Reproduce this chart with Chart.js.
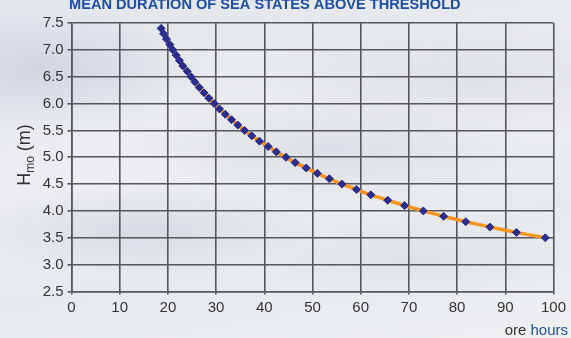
<!DOCTYPE html>
<html>
<head>
<meta charset="utf-8">
<script src="https://cdn.jsdelivr.net/npm/chart.js@4"></script>
<style>
    html, body { margin: 0; padding: 0; }
    body {
        width: 571px;
        height: 338px;
        overflow: hidden;
        background:
            radial-gradient(ellipse 160px 60px at 40px 70px, rgba(190,195,205,0.5), rgba(190,195,205,0) 100%),
            radial-gradient(ellipse 200px 50px at 330px 150px, rgba(200,204,212,0.45), rgba(200,204,212,0) 100%),
            radial-gradient(ellipse 180px 45px at 140px 230px, rgba(196,200,208,0.45), rgba(196,200,208,0) 100%),
            radial-gradient(ellipse 220px 60px at 470px 80px, rgba(205,208,216,0.4), rgba(205,208,216,0) 100%),
            radial-gradient(ellipse 160px 40px at 420px 260px, rgba(205,208,215,0.35), rgba(205,208,215,0) 100%),
            linear-gradient(170deg, #e2e5ea 0%, #eceef1 45%, #e6e9ed 70%, #eef0f2 100%);
    }
    #wrap { position: relative; width: 571px; height: 338px; }
</style>
</head>
<body>
<div id="wrap"><canvas id="durationChart" width="571" height="338"></canvas></div>
<script>
// significant wave height thresholds (m)
const hmoLevels = [7.4, 7.3, 7.2, 7.1, 7.0, 6.9, 6.8, 6.7, 6.6, 6.5,
                   6.4, 6.3, 6.2, 6.1, 6.0, 5.9, 5.8, 5.7, 5.6, 5.5,
                   5.4, 5.3, 5.2, 5.1, 5.0, 4.9, 4.8, 4.7, 4.6, 4.5,
                   4.4, 4.3, 4.2, 4.1, 4.0, 3.9, 3.8, 3.7, 3.6, 3.5];

// mean duration above threshold (hours)
const durationHours = [18.6, 19.1, 19.7, 20.4, 21.0, 21.7, 22.4, 23.1, 24.0, 24.8,
                       25.6, 26.5, 27.5, 28.5, 29.6, 30.7, 31.9, 33.2, 34.5, 35.9,
                       37.4, 39.0, 40.8, 42.5, 44.5, 46.4, 48.7, 51.0, 53.5, 56.1,
                       59.1, 62.1, 65.6, 69.1, 73.0, 77.2, 81.8, 86.8, 92.3, 98.3];

const xTicks = [0, 10, 20, 30, 40, 50, 60, 70, 80, 90, 100];
const yTicks = [2.5, 3.0, 3.5, 4.0, 4.5, 5.0, 5.5, 6.0, 6.5, 7.0, 7.5];

const chartTitle = 'MEAN DURATION OF SEA STATES ABOVE THRESHOLD';

const points = durationHours.map((h, i) => ({ x: h, y: hmoLevels[i] }));

const gridColor = '#55575b';
const tickColor = '#333333';

// title, y axis label with subscript, unit note
const extraText = {
    id: 'extraText',
    afterDraw(chart) {
        const ctx = chart.ctx;
        ctx.save();

        ctx.fillStyle = '#1f4fa3';
        ctx.font = 'bold 14.6px "Liberation Sans", Arial, sans-serif';
        ctx.textAlign = 'left';
        ctx.textBaseline = 'alphabetic';
        ctx.fillText(chartTitle, 69, 9);

        // H_mo (m), rotated
        ctx.translate(30, 155);
        ctx.rotate(-Math.PI / 2);
        ctx.fillStyle = '#333333';
        ctx.textBaseline = 'alphabetic';
        const big = '18px "Liberation Sans", Arial, sans-serif';
        const small = '12px "Liberation Sans", Arial, sans-serif';
        ctx.font = big;
        const wH = ctx.measureText('H').width;
        ctx.font = small;
        const wSub = ctx.measureText('mo').width;
        ctx.font = big;
        const wUnit = ctx.measureText(' (m)').width;
        let x = -(wH + wSub + wUnit) / 2;
        ctx.font = big;
        ctx.fillText('H', x, 0);
        x += wH;
        ctx.font = small;
        ctx.fillText('mo', x, 4);
        x += wSub;
        ctx.font = big;
        ctx.fillText(' (m)', x, 0);
        ctx.restore();

        ctx.save();
        ctx.font = '15px "Liberation Sans", Arial, sans-serif';
        ctx.textBaseline = 'alphabetic';
        ctx.textAlign = 'right';
        ctx.fillStyle = '#1f4fa3';
        const wHours = ctx.measureText('hours').width;
        ctx.fillText('hours', 568, 335);
        ctx.fillStyle = '#333333';
        ctx.fillText('ore ', 568 - wHours, 335);
        ctx.restore();
    }
};

new Chart(document.getElementById('durationChart'), {
    type: 'line',
    data: {
        datasets: [{
            data: points,
            borderColor: '#f7941d',
            borderWidth: 3.5,
            tension: 0.2,
            pointStyle: 'rectRot',
            pointRadius: 4,
            pointBackgroundColor: '#2b2d8e',
            pointBorderColor: '#2b2d8e',
            pointBorderWidth: 1
        }]
    },
    options: {
        responsive: false,
        animation: false,
        layout: { padding: { top: 23, right: 17.5, left: 0, bottom: 0 } },
        plugins: {
            legend: { display: false },
            tooltip: { enabled: false },
            title: { display: false }
        },
        scales: {
            x: {
                type: 'linear',
                min: 0,
                max: 100,
                afterBuildTicks: scale => { scale.ticks = xTicks.map(v => ({ value: v })); },
                afterFit: scale => { scale.height = 46.5; },
                grid: { color: gridColor, lineWidth: 1.6, tickLength: 3, drawTicks: true },
                border: { color: gridColor, width: 1.6 },
                ticks: {
                    color: tickColor,
                    padding: 4,
                    maxRotation: 0,
                    font: { family: '"Liberation Sans", Arial, sans-serif', size: 15 }
                }
            },
            y: {
                min: 2.5,
                max: 7.5,
                afterBuildTicks: scale => { scale.ticks = yTicks.map(v => ({ value: v })); },
                afterFit: scale => { scale.width = 71.5; },
                grid: { color: gridColor, lineWidth: 1.6, tickLength: 4 },
                border: { color: gridColor, width: 1.6 },
                ticks: {
                    color: tickColor,
                    padding: 4,
                    callback: v => v.toFixed(1),
                    font: { family: '"Liberation Sans", Arial, sans-serif', size: 15 }
                }
            }
        }
    },
    plugins: [extraText]
});
</script>
</body>
</html>
